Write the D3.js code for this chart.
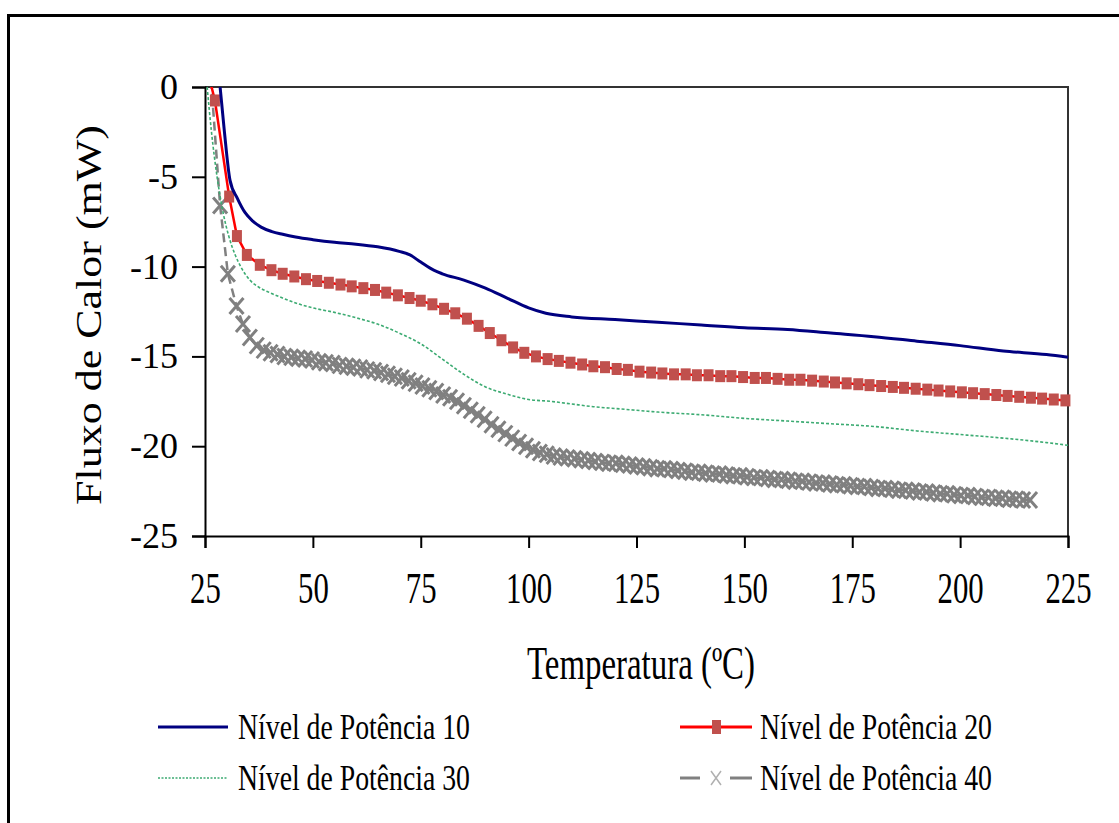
<!DOCTYPE html>
<html>
<head>
<meta charset="utf-8">
<script src="https://cdn.jsdelivr.net/npm/d3@7"></script>
<style>
  body { margin: 0; background: #fff; }
  svg { display: block; }
  text { font-family: "Liberation Serif", "Times New Roman", serif; fill: #000; }
</style>
</head>
<body>
<div class="Graph"></div>
<script>
var W = 1119, H = 823;
var FONT = "'Liberation Serif', 'Times New Roman', serif";

var xTicks = [25, 50, 75, 100, 125, 150, 175, 200, 225];
var yTicks = [0, -5, -10, -15, -20, -25];
var names = ["Nível de Potência 10", "Nível de Potência 20", "Nível de Potência 30", "Nível de Potência 40"];

// Nivel 10 (linha azul)
var t10 = [28.5, 29.5, 30.8, 32.5, 34.3, 36, 38, 40.5, 43, 46, 50, 55, 60, 65, 70, 72.5, 75, 78, 80, 85, 90, 95, 100, 104, 110, 120, 130, 140, 150, 160, 170, 180, 190, 200, 210, 220, 225];
var v10 = [0, -2.5, -5.2, -6.2, -7.0, -7.45, -7.8, -8.05, -8.2, -8.35, -8.5, -8.65, -8.75, -8.9, -9.15, -9.35, -9.75, -10.2, -10.4, -10.75, -11.2, -11.75, -12.3, -12.6, -12.8, -12.95, -13.1, -13.25, -13.4, -13.5, -13.7, -13.9, -14.15, -14.4, -14.7, -14.9, -15.05];

// Nivel 20 (quadrados)
var t20 = [25.9, 27.3, 30.6, 32.4, 34.7, 37.7, 40.4, 43, 45.7, 48.4, 51, 53.7, 56.4, 59, 61.7, 64.4, 67, 69.7, 72.4, 75, 77.7, 80.4, 83, 85.7, 88.4, 91, 93.7, 96.4, 99, 101.7, 104.4, 107, 109.7, 112.4, 115, 117.7, 120.4, 123, 125.7, 128.4, 131, 133.7, 136.4, 139, 141.7, 144.4, 147, 149.7, 152.4, 155, 157.7, 160.4, 163, 165.7, 168.4, 171, 173.7, 176.4, 179, 181.7, 184.4, 187, 189.7, 192.4, 195, 197.7, 200.4, 203, 205.7, 208.4, 211, 213.7, 216.4, 219, 221.7, 224.4];
var v20 = [0.6, -0.75, -6.1, -8.3, -9.35, -9.9, -10.2, -10.4, -10.55, -10.7, -10.8, -10.9, -11.0, -11.1, -11.2, -11.3, -11.45, -11.6, -11.75, -11.9, -12.1, -12.35, -12.6, -12.9, -13.3, -13.7, -14.1, -14.5, -14.8, -15.0, -15.15, -15.25, -15.35, -15.45, -15.55, -15.6, -15.7, -15.75, -15.85, -15.9, -15.95, -16.0, -16.0, -16.05, -16.05, -16.1, -16.1, -16.15, -16.2, -16.2, -16.25, -16.3, -16.3, -16.35, -16.4, -16.45, -16.5, -16.55, -16.6, -16.65, -16.7, -16.75, -16.8, -16.85, -16.9, -16.95, -17.0, -17.05, -17.1, -17.15, -17.2, -17.25, -17.3, -17.35, -17.4, -17.45];

// Nivel 30 (pontilhado verde)
var t30 = [25.5, 26.5, 27.8, 29.2, 30.5, 32, 33.5, 35.4, 37.5, 40, 43, 47, 50, 55, 60, 65, 70, 75, 80, 85, 90, 95, 100, 105, 110, 115, 120, 125, 130, 140, 150, 160, 170, 180, 190, 200, 210, 220, 225];
var v30 = [0, -2.5, -5, -7, -8.3, -9.35, -10.1, -10.75, -11.15, -11.45, -11.75, -12.1, -12.3, -12.55, -12.85, -13.2, -13.7, -14.3, -15.15, -16.0, -16.7, -17.1, -17.4, -17.5, -17.65, -17.8, -17.9, -18.0, -18.1, -18.25, -18.45, -18.6, -18.75, -18.9, -19.15, -19.35, -19.55, -19.8, -19.95];

// Nivel 40 (x cinza)
var t40 = [26.4, 28.5, 30.3, 32.3, 33.8, 35.4, 37.0, 38.6, 40.2, 41.8, 43.4, 45.0, 46.6, 48.2, 49.8, 51.4, 53.0, 54.6, 56.2, 57.8, 59.4, 61.0, 62.6, 64.2, 65.8, 67.4, 69.0, 70.6, 72.2, 73.8, 75.4, 77.0, 78.6, 80.2, 81.8, 83.4, 85.0, 86.6, 88.2, 89.8, 91.4, 93.0, 94.6, 96.2, 97.8, 99.4, 101.0, 102.6, 104.2, 105.8, 107.4, 109.0, 110.6, 112.2, 113.8, 115.4, 117.0, 118.6, 120.2, 121.8, 123.4, 125.0, 126.6, 128.2, 129.8, 131.4, 133.0, 134.6, 136.2, 137.8, 139.4, 141.0, 142.6, 144.2, 145.8, 147.4, 149.0, 150.6, 152.2, 153.8, 155.4, 157.0, 158.6, 160.2, 161.8, 163.4, 165.0, 166.6, 168.2, 169.8, 171.4, 173.0, 174.6, 176.2, 177.8, 179.4, 181.0, 182.6, 184.2, 185.8, 187.4, 189.0, 190.6, 192.2, 193.8, 195.4, 197.0, 198.6, 200.2, 201.8, 203.4, 205.0, 206.6, 208.2, 209.8, 211.4, 213.0, 214.6, 216.2, 217.8];
var v40 = [0.4, -6.6, -10.4, -12.2, -13.2, -13.95, -14.4, -14.65, -14.8, -14.9, -15.0, -15.05, -15.1, -15.15, -15.2, -15.3, -15.35, -15.4, -15.5, -15.55, -15.6, -15.65, -15.75, -15.8, -15.9, -16.0, -16.1, -16.2, -16.35, -16.5, -16.65, -16.8, -16.95, -17.15, -17.3, -17.5, -17.75, -18.0, -18.25, -18.5, -18.8, -19.05, -19.3, -19.55, -19.8, -20.0, -20.2, -20.35, -20.45, -20.55, -20.6, -20.65, -20.7, -20.75, -20.8, -20.85, -20.9, -20.95, -20.95, -21.0, -21.05, -21.1, -21.15, -21.2, -21.25, -21.25, -21.3, -21.35, -21.4, -21.45, -21.45, -21.5, -21.55, -21.55, -21.6, -21.65, -21.65, -21.7, -21.75, -21.75, -21.8, -21.85, -21.85, -21.9, -21.95, -21.95, -22.0, -22.05, -22.05, -22.1, -22.15, -22.15, -22.2, -22.25, -22.25, -22.3, -22.35, -22.35, -22.4, -22.45, -22.45, -22.5, -22.55, -22.55, -22.6, -22.65, -22.65, -22.7, -22.75, -22.75, -22.8, -22.85, -22.85, -22.9, -22.9, -22.95, -22.95, -23.0, -23.0];

var margin = { top: 87, right: 51, bottom: 287, left: 205 },
    width = W - margin.left - margin.right,
    height = H - margin.top - margin.bottom;

var svg = d3.select(".Graph")
    .append("svg")
    .attr("width", W)
    .attr("height", H)
    .attr("font-family", FONT);

// moldura externa
svg.append("rect")
    .attr("x", 8.5).attr("y", 15.5)
    .attr("width", W + 20).attr("height", H + 20)
    .attr("fill", "none")
    .attr("stroke", "#000")
    .attr("stroke-width", 3);

var x = d3.scaleLinear().domain([25, 225]).range([margin.left, margin.left + width]);
var y = d3.scaleLinear().domain([-25, 0]).range([margin.top + height, margin.top]);

svg.append("clipPath").attr("id", "clip")
    .append("rect")
    .attr("x", margin.left - 30).attr("y", margin.top)
    .attr("width", width + 60).attr("height", height + 40);

// borda da area do grafico (topo e direita)
svg.append("path")
    .attr("d", "M" + x(25) + "," + y(0) + "H" + x(225) + "V" + y(-25))
    .attr("fill", "none")
    .attr("stroke", "#333")
    .attr("stroke-width", 2);

// eixo y
var gy = svg.append("g")
    .attr("transform", "translate(" + margin.left + ",0)")
    .call(d3.axisLeft(y).tickValues(yTicks).tickSize(13).tickPadding(14).tickFormat(d => String(d)));
gy.attr("font-family", FONT);
gy.selectAll("path, line").attr("stroke", "#000").attr("stroke-width", 2);
gy.selectAll("text")
    .attr("font-family", FONT)
    .style("font-family", FONT)
    .style("font-size", "36px")
    .attr("fill", "#000");

// eixo x
var gx = svg.append("g")
    .attr("transform", "translate(0," + (margin.top + height) + ")")
    .call(d3.axisBottom(x).tickValues(xTicks).tickSize(12).tickPadding(24).tickFormat(d => String(d)));
gx.attr("font-family", FONT);
gx.selectAll("path, line").attr("stroke", "#000").attr("stroke-width", 2);
gx.selectAll("text")
    .attr("font-family", FONT)
    .style("font-family", FONT)
    .style("font-size", "44px")
    .attr("fill", "#000")
    .attr("transform", "scale(0.7,1)");

var plot = svg.append("g").attr("clip-path", "url(#clip)");

function pts(ts, vs) {
    return ts.map((t, i) => [t, vs[i]]);
}

var line = d3.line().x(d => x(d[0])).y(d => y(d[1]));
var smooth = d3.line().x(d => x(d[0])).y(d => y(d[1])).curve(d3.curveMonotoneX);

var d10 = pts(t10, v10), d20 = pts(t20, v20), d30 = pts(t30, v30), d40 = pts(t40, v40);

//==========================================//
// Nivel 40
plot.append("path")
    .attr("d", line(d40))
    .attr("fill", "none")
    .attr("stroke", "#808080")
    .attr("stroke-width", 2.5)
    .attr("stroke-dasharray", "9,5");

var xm = 7, ym = 8;
plot.selectAll(".x40")
    .data(d40.slice(1))
    .enter()
    .append("path")
    .attr("class", "x40")
    .attr("d", d => {
        var cx = x(d[0]), cy = y(d[1]);
        return "M" + (cx - xm) + "," + (cy - ym) + "L" + (cx + xm) + "," + (cy + ym) +
            "M" + (cx + xm) + "," + (cy - ym) + "L" + (cx - xm) + "," + (cy + ym);
    })
    .attr("stroke", "#808080")
    .attr("stroke-width", 3)
    .attr("fill", "none");

// Nivel 30
plot.append("path")
    .attr("d", smooth(d30))
    .attr("fill", "none")
    .attr("stroke", "#3cab72")
    .attr("stroke-width", 1.6)
    .attr("stroke-dasharray", "3,2");

// Nivel 20
plot.append("path")
    .attr("d", line(d20))
    .attr("fill", "none")
    .attr("stroke", "#ff0000")
    .attr("stroke-width", 2.5);

plot.selectAll(".sq")
    .data(d20)
    .enter()
    .append("rect")
    .attr("class", "sq")
    .attr("x", d => x(d[0]) - 5)
    .attr("y", d => y(d[1]) - 6)
    .attr("width", 10)
    .attr("height", 12)
    .attr("fill", "#c0504d");

// Nivel 10
plot.append("path")
    .attr("d", smooth(d10))
    .attr("fill", "none")
    .attr("stroke", "#000080")
    .attr("stroke-width", 3);
//==========================================//

// titulos
svg.append("text")
    .attr("transform", "translate(101,315) rotate(-90)")
    .attr("text-anchor", "middle")
    .attr("textLength", 380)
    .attr("lengthAdjust", "spacingAndGlyphs")
    .style("font-size", "35px")
    .text("Fluxo de Calor (mW)");

svg.append("text")
    .attr("x", 641)
    .attr("y", 679)
    .attr("text-anchor", "middle")
    .attr("textLength", 228)
    .attr("lengthAdjust", "spacingAndGlyphs")
    .style("font-size", "47px")
    .text("Temperatura (ºC)");

// legenda
var leg = [
    { x: 158, y: 727, name: names[0] },
    { x: 680, y: 727, name: names[1] },
    { x: 158, y: 778, name: names[2] },
    { x: 680, y: 778, name: names[3] }
];

var lg = svg.selectAll(".leg")
    .data(leg)
    .enter()
    .append("g")
    .attr("class", "leg")
    .attr("transform", d => "translate(" + d.x + "," + d.y + ")");

lg.append("text")
    .attr("x", 80)
    .attr("y", 12)
    .attr("textLength", 232)
    .attr("lengthAdjust", "spacingAndGlyphs")
    .style("font-size", "35px")
    .text(d => d.name);

var l0 = lg.filter((d, i) => i === 0);
l0.append("line").attr("x1", 0).attr("x2", 70).attr("y1", 0).attr("y2", 0)
    .attr("stroke", "#000080").attr("stroke-width", 3);

var l1 = lg.filter((d, i) => i === 1);
l1.append("line").attr("x1", 0).attr("x2", 72).attr("y1", 0).attr("y2", 0)
    .attr("stroke", "#ff0000").attr("stroke-width", 3);
l1.append("rect").attr("x", 32).attr("y", -7).attr("width", 9).attr("height", 14)
    .attr("fill", "#c0504d");

var l2 = lg.filter((d, i) => i === 2);
l2.append("line").attr("x1", 0).attr("x2", 70).attr("y1", 0).attr("y2", 0)
    .attr("stroke", "#3cab72").attr("stroke-width", 1.6).attr("stroke-dasharray", "2,1.5");

var l3 = lg.filter((d, i) => i === 3);
l3.append("line").attr("x1", 0).attr("x2", 20).attr("y1", 0).attr("y2", 0)
    .attr("stroke", "#808080").attr("stroke-width", 3);
l3.append("line").attr("x1", 50).attr("x2", 72).attr("y1", 0).attr("y2", 0)
    .attr("stroke", "#808080").attr("stroke-width", 3);
l3.append("path").attr("d", "M31,-7L41,7M41,-7L31,7")
    .attr("stroke", "#b0b0b0").attr("stroke-width", 1.5).attr("fill", "none");
</script>
</body>
</html>
